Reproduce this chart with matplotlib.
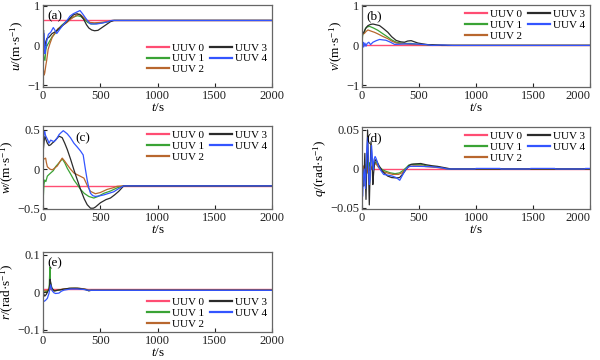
import matplotlib
matplotlib.use('Agg')
import matplotlib.pyplot as plt
from matplotlib.ticker import FuncFormatter

plt.rcParams['font.family'] = ['Liberation Serif', 'DejaVu Serif']
plt.rcParams['mathtext.fontset'] = 'custom'
plt.rcParams['mathtext.rm'] = 'Liberation Serif'
plt.rcParams['mathtext.it'] = 'Liberation Serif:italic'
plt.rcParams['axes.unicode_minus'] = True

# =========================================================
# Data
# =========================================================

T_END = 2000
labels = ['UUV 0', 'UUV 1', 'UUV 2', 'UUV 3', 'UUV 4']
colors = ['#ff4d73', '#3aa335', '#b8672e', '#2b2b2b', '#3355ff']

# (a) surge speed u
u0 = 0.63
u1 = [(0, -0.15), (8, -0.3), (17, -0.38), (25, -0.1), (35, 0.0), (47, 0.05), (60, 0.12), (80, 0.22),
      (100, 0.28), (130, 0.4), (160, 0.5), (200, 0.6), (240, 0.68), (270, 0.72), (300, 0.75), (330, 0.73),
      (360, 0.66), (390, 0.58), (420, 0.54), (460, 0.55), (520, 0.57), (570, 0.6), (610, 0.63), (2000, 0.63)]
u2 = [(0, -0.5), (9, -0.75), (15, -0.7), (25, -0.5), (32, -0.38), (45, -0.1), (60, 0.04), (80, 0.2),
      (100, 0.3), (130, 0.42), (170, 0.5), (210, 0.58), (250, 0.68), (290, 0.76), (320, 0.79), (350, 0.72),
      (380, 0.64), (410, 0.58), (450, 0.57), (500, 0.58), (560, 0.6), (610, 0.63), (2000, 0.63)]
u3 = [(0, 0.3), (5, 0.38), (10, 0.1), (17, -0.02), (25, 0.1), (35, 0.18), (50, 0.2), (65, 0.25), (80, 0.3),
      (110, 0.35), (150, 0.45), (200, 0.58), (240, 0.7), (270, 0.78), (300, 0.8), (330, 0.76), (355, 0.66),
      (380, 0.52), (400, 0.44), (425, 0.39), (450, 0.37), (480, 0.38), (510, 0.44), (550, 0.52), (590, 0.6),
      (620, 0.63), (2000, 0.63)]
u4 = [(0, 0.15), (9, 0.3), (17, -0.21), (25, -0.05), (32, 0.1), (47, 0.28), (67, 0.33), (90, 0.45),
      (105, 0.38), (120, 0.3), (135, 0.36), (150, 0.42), (177, 0.52), (207, 0.62), (236, 0.74), (265, 0.8),
      (294, 0.84), (323, 0.88), (345, 0.8), (367, 0.71), (390, 0.62), (410, 0.55), (440, 0.54), (468, 0.54),
      (510, 0.56), (556, 0.59), (600, 0.63), (2000, 0.63)]

# (b) sway speed v
v0 = 0.0
v1 = [(0, 0.0), (5, 0.25), (9, 0.29), (20, 0.32), (30, 0.42), (38, 0.46), (50, 0.47), (67, 0.48), (100, 0.44),
      (140, 0.38), (180, 0.3), (227, 0.21), (260, 0.14), (300, 0.08), (340, 0.06), (380, 0.05), (430, 0.05),
      (480, 0.03), (540, 0.02), (600, 0.01), (700, 0.0), (2000, 0.0)]
v2 = [(0, 0.0), (3, 0.29), (20, 0.3), (35, 0.35), (52, 0.39), (80, 0.36), (110, 0.33), (140, 0.29),
      (180, 0.23), (227, 0.17), (260, 0.11), (300, 0.06), (350, 0.04), (400, 0.03), (450, 0.02), (500, 0.02),
      (600, 0.01), (700, 0.0), (2000, 0.0)]
v3 = [(0, 0.05), (5, 0.3), (15, 0.33), (30, 0.42), (52, 0.5), (75, 0.53), (96, 0.54), (125, 0.52),
      (154, 0.5), (190, 0.42), (227, 0.33), (260, 0.22), (300, 0.125), (340, 0.09), (373, 0.08), (400, 0.11),
      (431, 0.12), (460, 0.09), (490, 0.06), (530, 0.04), (577, 0.02), (650, 0.01), (750, 0.0), (2000, 0.0)]
v4 = [(0, -0.1), (4, -0.05), (9, 0.08), (15, -0.04), (25, 0.06), (35, -0.02), (45, 0.05), (60, 0.08),
      (75, 0.02), (96, 0.08), (125, 0.12), (154, 0.15), (180, 0.14), (210, 0.13), (250, 0.08), (286, 0.025),
      (330, 0.03), (380, 0.04), (430, 0.04), (500, 0.03), (560, 0.02), (620, 0.0), (700, 0.01), (800, 0.0),
      (2000, 0.0)]

# (c) heave speed w
w0 = -0.22
w1 = [(0, -0.2), (3, -0.35), (8, -0.2), (15, -0.14), (25, -0.16), (38, -0.09), (52, -0.07), (67, -0.05),
      (90, -0.02), (110, 0.03), (140, 0.08), (168, 0.13), (190, 0.08), (212, 0.01), (240, -0.06), (270, -0.14),
      (300, -0.2), (328, -0.26), (360, -0.31), (400, -0.35), (444, -0.37), (480, -0.35), (531, -0.31),
      (590, -0.28), (647, -0.24), (700, -0.215), (2000, -0.215)]
w2 = [(0, 0.02), (3, 0.12), (10, 0.13), (23, 0.14), (30, 0.08), (38, 0.03), (60, 0.0), (81, -0.01),
      (100, 0.01), (125, 0.04), (150, 0.1), (168, 0.14), (190, 0.1), (212, 0.055), (240, 0.0), (270, -0.05),
      (310, -0.08), (357, -0.115), (390, -0.22), (415, -0.285), (458, -0.315), (500, -0.3), (560, -0.26),
      (610, -0.24), (647, -0.22), (700, -0.215), (2000, -0.215)]
w3 = [(0, 0.1), (3, 0.25), (10, 0.36), (17, 0.42), (25, 0.38), (38, 0.33), (52, 0.3), (67, 0.31), (80, 0.33),
      (96, 0.35), (115, 0.38), (139, 0.42), (155, 0.41), (168, 0.4), (190, 0.33), (212, 0.25), (240, 0.13),
      (270, -0.01), (300, -0.14), (328, -0.26), (360, -0.38), (386, -0.455), (415, -0.5), (440, -0.5),
      (458, -0.485), (502, -0.43), (550, -0.39), (589, -0.37), (625, -0.33), (661, -0.285), (705, -0.215),
      (2000, -0.215)]
w4 = [(0, 0.25), (5, 0.4), (10, 0.46), (15, 0.48), (22, 0.43), (32, 0.4), (45, 0.36), (52, 0.33), (67, 0.37),
      (80, 0.36), (96, 0.35), (110, 0.37), (125, 0.4), (140, 0.44), (154, 0.46), (177, 0.49), (195, 0.47),
      (212, 0.45), (240, 0.4), (270, 0.33), (300, 0.28), (328, 0.23), (351, 0.18), (370, 0.0), (386, -0.14),
      (400, -0.24), (415, -0.31), (435, -0.34), (458, -0.35), (500, -0.34), (531, -0.33), (575, -0.31),
      (618, -0.29), (660, -0.25), (705, -0.215), (2000, -0.215)]

# (d) pitch rate q
q0 = 0.0
q1 = [(0, 0.005), (8, 0.002), (15, -0.008), (25, 0.006), (35, -0.01), (45, 0.012), (55, -0.006), (65, 0.008),
      (80, 0.0), (100, 0.004), (120, 0.009), (150, 0.003), (180, -0.001), (210, -0.003), (250, -0.005),
      (290, -0.006), (330, -0.005), (360, -0.002), (390, 0.002), (410, 0.005), (450, 0.006), (520, 0.006),
      (560, 0.004), (650, 0.003), (750, 0.0), (2000, 0.0)]
q2 = [(0, 0.0), (8, -0.004), (15, 0.004), (25, -0.006), (35, 0.004), (45, -0.005), (55, 0.003), (70, -0.002),
      (90, 0.004), (120, 0.007), (150, 0.001), (180, -0.003), (220, -0.005), (270, -0.007), (320, -0.007),
      (350, -0.005), (380, -0.001), (410, 0.003), (450, 0.004), (520, 0.004), (560, 0.003), (650, 0.002),
      (750, 0.0), (2000, 0.0)]
q3 = [(0, 0.0), (8, -0.01), (15, -0.022), (25, 0.02), (35, -0.039), (49, 0.05), (57, 0.0), (64, -0.046),
      (72, 0.0), (79, 0.035), (88, 0.01), (95, -0.02), (102, -0.005), (114, 0.012), (130, 0.01), (150, 0.004),
      (180, -0.003), (224, -0.009), (260, -0.011), (300, -0.0115), (330, -0.011), (360, -0.006), (390, 0.0),
      (410, 0.004), (430, 0.006), (470, 0.0065), (515, 0.007), (560, 0.0055), (620, 0.004), (661, 0.0034),
      (748, 0.001), (780, 0.0), (2000, 0.0)]
q4 = [(0, -0.01), (6, -0.035), (12, -0.01), (20, 0.0), (30, -0.025), (40, 0.02), (49, 0.04), (56, 0.005),
      (64, -0.02), (70, -0.014), (78, 0.015), (84, 0.03), (92, 0.01), (99, -0.001), (105, 0.012), (115, 0.016),
      (125, 0.013), (146, 0.003), (170, -0.003), (190, -0.007), (230, -0.008), (264, -0.009), (300, -0.011),
      (331, -0.0145), (355, -0.008), (381, -0.001), (400, 0.002), (419, 0.0034), (483, 0.0034), (600, 0.003),
      (700, 0.0015), (747, 0.0), (990, 0.0), (1000, 0.0007), (1210, 0.0007), (1220, 0.0), (1470, 0.0),
      (1480, 0.0007), (1690, 0.0007), (1700, 0.0), (1950, 0.0), (1960, 0.0007), (2000, 0.0007)]

# (e) yaw rate r
r0 = 0.009
r1 = [(0, 0.005), (10, 0.004), (25, 0.002), (40, 0.003), (50, 0.006), (55, 0.02), (60, 0.067), (64, 0.03),
      (70, 0.015), (80, 0.008), (96, 0.004), (120, 0.005), (154, 0.007), (212, 0.01), (280, 0.011),
      (330, 0.01), (380, 0.007), (400, 0.005), (420, 0.0055), (2000, 0.0055)]
r2 = [(0, 0.005), (20, 0.004), (40, 0.006), (55, 0.012), (62, 0.02), (70, 0.008), (90, 0.004), (130, 0.006),
      (180, 0.009), (250, 0.011), (320, 0.011), (380, 0.008), (420, 0.0055), (2000, 0.0055)]
r3 = [(0, 0.0), (15, -0.01), (30, -0.005), (45, 0.005), (55, 0.01), (62, 0.035), (68, 0.025), (75, 0.015),
      (81, 0.01), (100, 0.004), (130, 0.006), (170, 0.008), (230, 0.011), (300, 0.011), (370, 0.008),
      (400, 0.004), (420, 0.0055), (2000, 0.0055)]
r4 = [(0, -0.02), (9, -0.024), (20, -0.022), (38, -0.016), (52, -0.003), (60, 0.01), (67, 0.02), (74, 0.01),
      (81, 0.004), (95, -0.001), (110, -0.003), (139, -0.002), (160, 0.003), (183, 0.006), (241, 0.009),
      (300, 0.009), (350, 0.008), (386, 0.006), (420, 0.0055), (2000, 0.0055)]

# =========================================================
# Figure
# =========================================================

fig = plt.figure(figsize=(6, 3.6), dpi=100)

W, H = 600.0, 360.0
def px_axes(left, top, right, bottom):
    return fig.add_axes([left / W, 1 - bottom / H, (right - left) / W, (bottom - top) / H])

def fmt(v, pos):
    s = '%g' % v
    return s.replace('-', '\u2212')

panels = [
    # (axes box px, tag, tag x, ylabel, ref value, series, ylim, yticks, legend anchor)
    ((43, 5, 272, 87), '(a)', 0.02, r'$u$/(m·s$^{-1}$)', u0, [u1, u2, u3, u4], (-1.05, 1.02), [-1, 0, 1], ('lower right', (1.0, 0.1))),
    ((362, 5, 590, 87), '(b)', 0.02, r'$v$/(m·s$^{-1}$)', v0, [v1, v2, v3, v4], (-1.05, 1.02), [-1, 0, 1], ('upper right', (1.0, 1.0))),
    ((43, 126, 272, 209), '(c)', 0.14, r'$w$/(m·s$^{-1}$)', w0, [w1, w2, w3, w4], (-0.51, 0.55), [-0.5, 0, 0.5], ('upper right', (1.0, 1.0))),
    ((362, 127, 590, 209), '(d)', 0.02, r'$q$/(rad·s$^{-1}$)', q0, [q1, q2, q3, q4], (-0.0513, 0.0538), [-0.05, 0, 0.05], ('upper right', (1.0, 1.0))),
    ((43, 252, 272, 332), '(e)', 0.02, r'$r$/(rad·s$^{-1}$)', r0, [r1, r2, r3, r4], (-0.106, 0.108), [-0.1, 0, 0.1], ('lower right', (1.0, -0.02))),
]

for box, tag, tagx, ylab, ref, series, ylim, yticks, (legloc, anchor) in panels:
    ax = px_axes(*box)
    ax.plot([0, T_END], [ref, ref], color=colors[0], lw=1.0, label=labels[0])
    for k, s in enumerate(series):
        t = [p[0] for p in s]
        y = [p[1] for p in s]
        ax.plot(t, y, color=colors[k + 1], lw=0.9, label=labels[k + 1])

    ax.set_xlim(0, T_END)
    ax.set_ylim(*ylim)
    ax.set_xticks([0, 500, 1000, 1500, 2000])
    ax.set_yticks(yticks)
    ax.yaxis.set_major_formatter(FuncFormatter(fmt))
    ax.tick_params(direction='in', length=3, width=0.8, labelsize=9, pad=2, colors='#222222')
    for sp in ax.spines.values():
        sp.set_color('#666666')
        sp.set_linewidth(0.9)

    # right column: keep the last tick label inside the figure
    if box[0] > 300:
        fig.canvas.draw()
        ax.get_xticklabels()[-1].set_horizontalalignment('right')
        ax.get_xticklabels()[-1].set_x(T_END)
        for lab in ax.xaxis.get_majorticklabels()[-1:]:
            lab.set_ha('right')

    ax.set_xlabel(r'$t$/s', fontsize=9.5, labelpad=0)
    ax.set_ylabel(ylab, fontsize=9.5, labelpad=1)
    ax.text(tagx, 0.93, tag, transform=ax.transAxes, fontsize=9.5, va='top', ha='left')

    leg = ax.legend(loc=legloc, bbox_to_anchor=anchor, ncol=2, frameon=False,
                    fontsize=8, handlelength=2.0, handletextpad=0.3, columnspacing=0.5,
                    labelspacing=0.1, borderpad=0.2, borderaxespad=0.2)
    for line in leg.get_lines():
        line.set_linewidth(1.6)

fig.savefig('out.png', dpi=100)
